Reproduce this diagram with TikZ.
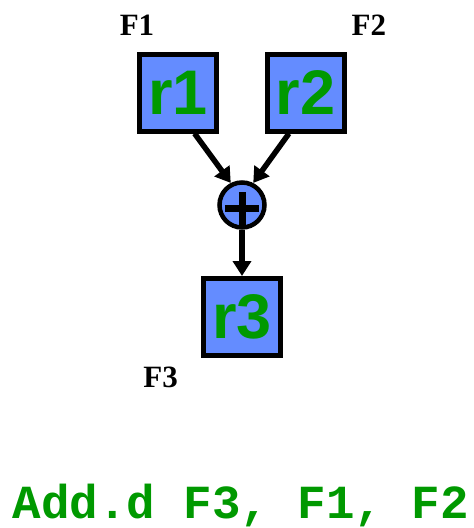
\documentclass[tikz,border=0pt]{standalone}
\usepackage{fontspec}
\setmainfont{Liberation Serif}
\setsansfont{Liberation Sans}
\setmonofont{Liberation Mono}
\usetikzlibrary{positioning,arrows.meta}
\definecolor{regblue}{RGB}{100,140,255}
\definecolor{reggreen}{RGB}{0,153,0}

\begin{document}
\begin{tikzpicture}[x=1pt,y=-1pt,
	reg/.style={draw=black, line width=5pt, fill=regblue, minimum size=77pt, inner sep=0pt,
		text=reggreen, font=\sffamily\bfseries\fontsize{63}{63}\selectfont},
	adder/.style={circle, draw=black, line width=4.5pt, fill=regblue, minimum size=45pt, inner sep=0pt},
	flabel/.style={inner sep=0pt, font=\bfseries\fontsize{31}{31}\selectfont},
	arr/.style={line width=5.5pt, -{Triangle[length=15pt,width=18pt]}}]
	\useasboundingbox (0,0) rectangle (474,528);
	
	% registers
	\node[reg] (r1) at (178,92.5) {r1};
	\node[reg] (r2) at (305.5,92.5) {r2};
	\node[adder] (sum) at (242,205) {};
	\node[reg] (r3) at (242,317) {r3};
	
	% plus sign in the adder
	\draw[line width=7pt] (sum.center) ++(-17,3) -- ++(34,0);
	\draw[line width=7pt] (sum.center) ++(0,-13) -- ++(0,34);
	
	\node[flabel, above=16pt of r1.north west] (f1) {F1};
	\node[flabel, above right=16pt and 5pt of r2.north east] (f2) {F2};
	\node[flabel, below left=9pt and 23pt of r3.south west] (f3) {F3};
	
	\draw[arr] (r1.-68) -- (sum.117);
	\draw[arr] (r2.-112) -- (sum.63);
	\draw[arr] (sum) -- (r3);
	
	\node[anchor=base, inner sep=0pt, text=reggreen, font=\ttfamily\bfseries\fontsize{47.5}{47.5}\selectfont] (instr) at (241,518) {Add.d F3, F1, F2};
\end{tikzpicture}
\end{document}
